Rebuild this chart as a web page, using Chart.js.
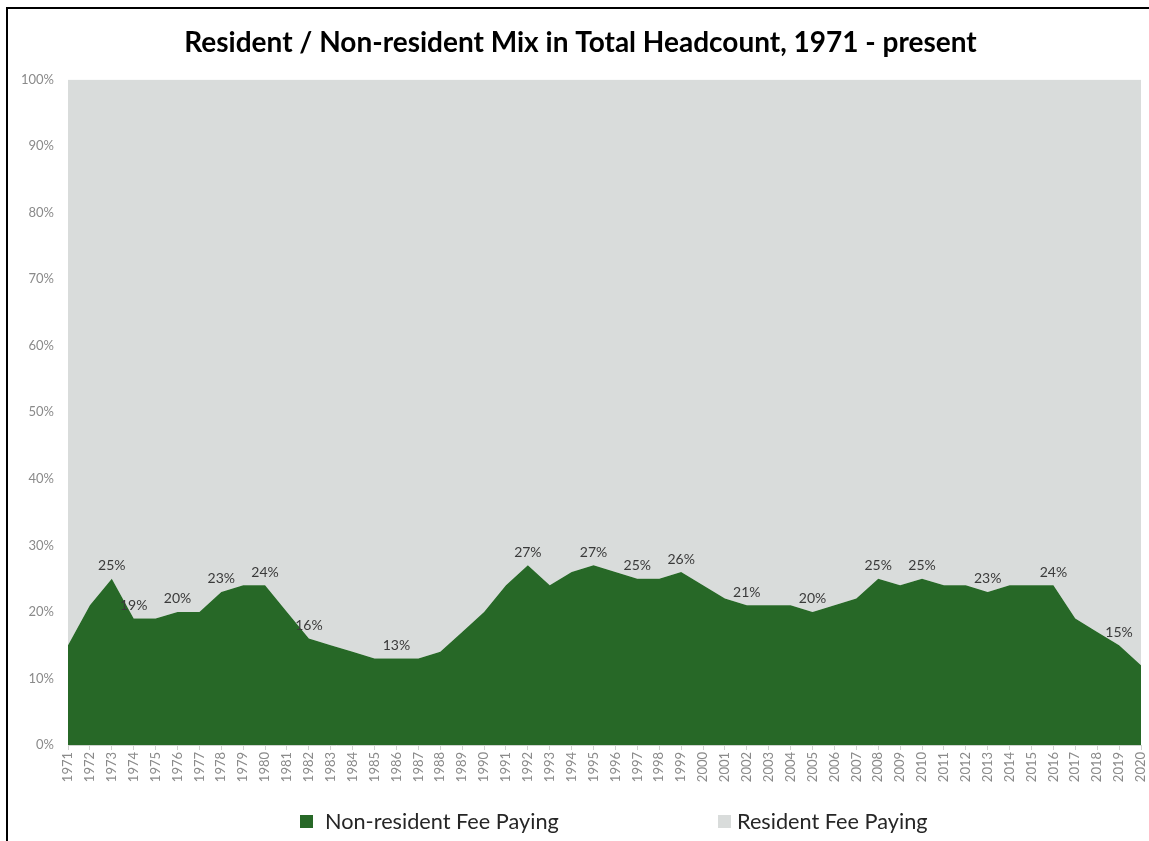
<!DOCTYPE html>
<html>
<head>
<meta charset="utf-8">
<title>Resident / Non-resident Mix</title>
<script src="https://cdn.jsdelivr.net/npm/chart.js@4/dist/chart.umd.min.js"></script>
<style>
    body { margin: 0; background: #fff; }
    #wrap { position: relative; width: 1149px; height: 841px; overflow: hidden; }
    #frame { position: absolute; left: 6px; top: 7px; width: 1200px; height: 900px; border-left: 2px solid #000; border-top: 2px solid #000; }
    #chartJS1 { position: absolute; left: 0; top: 0; }
    .legend { position: absolute; top: 808px; font-family: Lato, 'Open Sans', sans-serif; font-size: 21.7px; color: #262626; white-space: nowrap; }
    .legend span.box { display: inline-block; width: 13px; height: 13px; margin-right: 12px; vertical-align: 1px; }
</style>
</head>
<body>
<div id="wrap">
    <div id="frame"></div>
    <canvas id="chartJS1" width="1149" height="841"></canvas>
    <div class="legend" style="left:300px"><span class="box" style="background:#276827"></span>Non-resident Fee Paying</div>
    <div class="legend" style="left:718px"><span class="box" style="background:#d9dcdb;margin-right:6px"></span>Resident Fee Paying</div>
</div>
<script>
var years = ['1971', '1972', '1973', '1974', '1975', '1976', '1977', '1978', '1979', '1980',
    '1981', '1982', '1983', '1984', '1985', '1986', '1987', '1988', '1989', '1990',
    '1991', '1992', '1993', '1994', '1995', '1996', '1997', '1998', '1999', '2000',
    '2001', '2002', '2003', '2004', '2005', '2006', '2007', '2008', '2009', '2010',
    '2011', '2012', '2013', '2014', '2015', '2016', '2017', '2018', '2019', '2020'];

// % of total headcount
var nonResident = [15, 21, 25, 19, 19, 20, 20, 23, 24, 24,
    20, 16, 15, 14, 13, 13, 13, 14, 17, 20,
    24, 27, 24, 26, 27, 26, 25, 25, 26, 24,
    22, 21, 21, 21, 20, 21, 22, 25, 24, 25,
    24, 24, 23, 24, 24, 24, 19, 17, 15, 12];

var resident = [85, 79, 75, 81, 81, 80, 80, 77, 76, 76,
    80, 84, 85, 86, 87, 87, 87, 86, 83, 80,
    76, 73, 76, 74, 73, 74, 75, 75, 74, 76,
    78, 79, 79, 79, 80, 79, 78, 75, 76, 75,
    76, 76, 77, 76, 76, 76, 81, 83, 85, 88];

// years that carry a value label in the original
var labelledYears = ['1973', '1974', '1976', '1978', '1980', '1982', '1986', '1992', '1995',
    '1997', '1999', '2002', '2005', '2008', '2010', '2013', '2016', '2019'];

var yTicks = [0, 10, 20, 30, 40, 50, 60, 70, 80, 90, 100];

var pointLabels = {
    id: 'pointLabels',
    afterDatasetsDraw: function (chart) {
        var ctx = chart.ctx;
        var meta = chart.getDatasetMeta(0);
        ctx.save();
        ctx.font = '14px Lato, sans-serif';
        ctx.fillStyle = '#3a3a3a';
        ctx.textAlign = 'center';
        ctx.textBaseline = 'middle';
        for (var i = 0; i < labelledYears.length; i++) {
            var idx = years.indexOf(labelledYears[i]);
            var pt = meta.data[idx];
            ctx.fillText(nonResident[idx] + '%', pt.x, pt.y - 13);
        }
        ctx.restore();
    }
};

var ctx1 = document.getElementById('chartJS1').getContext('2d');
var chart1 = new Chart(ctx1, {
    type: 'line',
    data: {
        labels: years,
        datasets: [{
            label: 'Non-resident Fee Paying',
            data: nonResident,
            backgroundColor: '#276827',
            borderWidth: 0,
            pointRadius: 0,
            tension: 0,
            fill: 'origin'
        }, {
            label: 'Resident Fee Paying',
            data: resident,
            backgroundColor: '#d9dcdb',
            borderWidth: 0,
            pointRadius: 0,
            tension: 0,
            fill: '-1'
        }]
    },
    options: {
        responsive: false,
        animation: false,
        layout: {
            // left padding pushes the title centre over to the right a bit
            padding: { left: 20, right: 8, top: 0, bottom: 56 }
        },
        plugins: {
            legend: { display: false },
            tooltip: { enabled: false },
            title: {
                display: true,
                text: 'Resident / Non-resident Mix in Total Headcount, 1971 - present',
                color: '#000',
                font: { family: 'Lato, sans-serif', size: 28, weight: 'bold' },
                padding: { top: 26, bottom: 20 }
            }
        },
        scales: {
            y: {
                stacked: true,
                min: 0,
                max: 100,
                afterFit: function (scale) { scale.width = 48; },
                afterBuildTicks: function (scale) {
                    scale.ticks = yTicks.map(function (v) { return { value: v }; });
                },
                ticks: {
                    padding: 14,
                    color: '#8a8a8a',
                    font: { family: 'Lato, sans-serif', size: 13 },
                    callback: function (v) { return v + '%'; }
                },
                grid: { display: false, drawTicks: false },
                border: { display: false }
            },
            x: {
                offset: false,
                afterFit: function (scale) {
                    scale.height = 40;
                    scale.paddingLeft = 0;
                    scale.paddingRight = 0;
                },
                ticks: {
                    autoSkip: false,
                    minRotation: 90,
                    maxRotation: 90,
                    padding: 2,
                    color: '#8a8a8a',
                    font: { family: 'Lato, sans-serif', size: 13 }
                },
                grid: {
                    drawOnChartArea: false,
                    tickLength: 5,
                    color: '#d0d0d0'
                },
                border: { color: '#cfd3cf', width: 1 }
            }
        }
    },
    plugins: [pointLabels]
});
</script>
</body>
</html>
